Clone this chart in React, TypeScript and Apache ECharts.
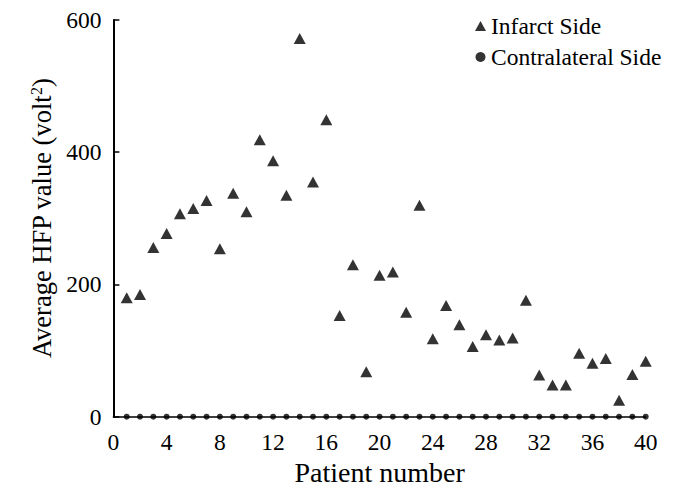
import React, { useEffect, useRef } from "react";
import * as echarts from "echarts";

const patients = [1,2,3,4,5,6,7,8,9,10,11,12,13,14,15,16,17,18,19,20,21,22,23,24,25,26,27,28,29,30,31,32,33,34,35,36,37,38,39,40];
const infarct = [180,185,256,277,307,315,327,254,338,310,419,387,335,572,355,449,153,230,68,214,219,158,320,118,168,139,106,124,116,119,176,63,48,48,96,81,88,25,64,84];
const contralateral = [0,0,0,0,0,0,0,0,0,0,0,0,0,0,0,0,0,0,0,0,0,0,0,0,0,0,0,0,0,0,0,0,0,0,0,0,0,0,0,0];
const seriesNames = ["Infarct Side", "Contralateral Side"];
const xAxisTitle = "Patient number";
const yAxisTitle = "Average HFP value (volt{sup|2})";

const FONT = "'Liberation Serif', 'Times New Roman', serif";

export default function App() {
  const ref = useRef<HTMLDivElement>(null);
  useEffect(() => {
    if (!ref.current) return;
    const chart = echarts.init(ref.current, undefined, { renderer: "svg" });
    chart.setOption({
      animation: false,
      backgroundColor: "#ffffff",
      textStyle: { fontFamily: FONT, color: "#000" },
      grid: { left: 105.4, right: 25.3, top: 8.5, bottom: 78.3, containLabel: false },
      legend: {
        orient: "vertical",
        left: 462,
        top: 1,
        itemGap: 7,
        itemWidth: 11,
        itemHeight: 10,
        itemTextGap: 10,
        textStyle: { fontFamily: FONT, fontSize: 23.5, color: "#000" },
        data: [
          { name: seriesNames[0], icon: "triangle" },
          { name: seriesNames[1], icon: "circle" },
        ],
      },
      xAxis: {
        type: "value",
        min: 0,
        max: 40,
        interval: 4,
        name: xAxisTitle,
        nameLocation: "middle",
        nameGap: 41,
        nameTextStyle: { fontFamily: FONT, fontSize: 28, color: "#000" },
        axisLine: { show: true, onZero: false, lineStyle: { color: "#000", width: 1.5 } },
        axisTick: { show: false },
        axisLabel: { fontFamily: FONT, fontSize: 23.5, color: "#000", margin: 13 },
        splitLine: { show: false },
      },
      yAxis: {
        type: "value",
        min: 0,
        max: 600,
        interval: 200,
        name: yAxisTitle,
        nameLocation: "middle",
        nameGap: 55,
        nameTextStyle: {
          fontFamily: FONT,
          fontSize: 26.5,
          color: "#000",
          rich: {
            sup: { fontFamily: FONT, fontSize: 16, color: "#000", verticalAlign: "top", lineHeight: 16, padding: [0, 0, 11, 0] },
          },
        },
        axisLine: { show: true, lineStyle: { color: "#000", width: 2 } },
        axisTick: { show: true, inside: true, length: 6, lineStyle: { color: "#000", width: 1.5 } },
        axisLabel: { fontFamily: FONT, fontSize: 23.5, color: "#000", margin: 12 },
        splitLine: { show: false },
      },
      series: [
        {
          name: seriesNames[0],
          type: "scatter",
          symbol: "triangle",
          symbolSize: [12, 11],
          itemStyle: { color: "#000" },
          data: patients.map((p, i) => [p, infarct[i]]),
        },
        {
          name: seriesNames[1],
          type: "scatter",
          symbol: "circle",
          symbolSize: 6,
          itemStyle: { color: "#000" },
          data: patients.map((p, i) => [p, contralateral[i]]),
        },
      ],
    });
    return () => chart.dispose();
  }, []);
  return <div ref={ref} style={{ width: 663, height: 487 }} />;
}
